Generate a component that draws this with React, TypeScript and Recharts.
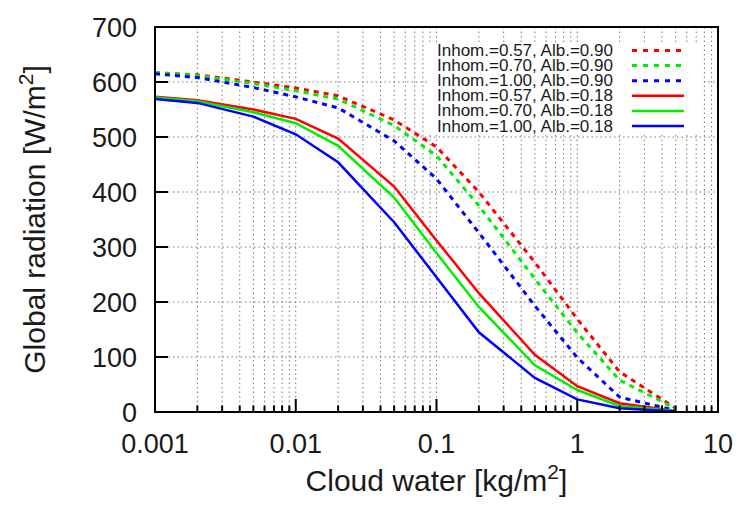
import React from 'react';
import { LineChart, Line, XAxis, YAxis, CartesianGrid, Legend } from 'recharts';

// ---------- data ----------
const cloudWater = [0.001, 0.002, 0.005, 0.01, 0.02, 0.05, 0.1, 0.2, 0.5, 1, 2, 5];

const inh057Alb090 = [617, 613, 600, 589, 575, 531, 482, 400, 272, 169, 73, 7];
const inh070Alb090 = [617, 612, 597, 584, 569, 521, 466, 375, 242, 144, 58, 6];
const inh100Alb090 = [615, 608, 590, 573, 553, 493, 424, 326, 193, 99, 27, 3];
const inh057Alb018 = [573, 567, 550, 533, 497, 410, 312, 216, 104, 47, 16, 2];
const inh070Alb018 = [572, 565, 545, 525, 484, 390, 289, 191, 85, 40, 11, 2];
const inh100Alb018 = [569, 562, 537, 505, 454, 345, 245, 145, 62, 23, 7, 1];

const seriesNames = [
  'Inhom.=0.57, Alb.=0.90',
  'Inhom.=0.70, Alb.=0.90',
  'Inhom.=1.00, Alb.=0.90',
  'Inhom.=0.57, Alb.=0.18',
  'Inhom.=0.70, Alb.=0.18',
  'Inhom.=1.00, Alb.=0.18',
];
const seriesValues = [inh057Alb090, inh070Alb090, inh100Alb090, inh057Alb018, inh070Alb018, inh100Alb018];
const seriesColors = ['#ff0000', '#00ee00', '#0000ff', '#ff0000', '#00ee00', '#0000ff'];
const seriesDashed = [true, true, true, false, false, false];

const xMajorTicks = [0.001, 0.01, 0.1, 1, 10];
const xTickLabels = ['0.001', '0.01', '0.1', '1', '10'];
const xMinorTicks = [
  0.002, 0.003, 0.004, 0.005, 0.006, 0.007, 0.008, 0.009,
  0.02, 0.03, 0.04, 0.05, 0.06, 0.07, 0.08, 0.09,
  0.2, 0.3, 0.4, 0.5, 0.6, 0.7, 0.8, 0.9,
  2, 3, 4, 5, 6, 7, 8, 9,
];
const xAllTicks = [...xMajorTicks, ...xMinorTicks].sort((a, b) => a - b);
const yTicks = [0, 100, 200, 300, 400, 500, 600, 700];
const yTickLabels = ['0', '100', '200', '300', '400', '500', '600', '700'];

const chartData = cloudWater.map((x, i) => {
  const row: Record<string, number> = { x };
  seriesValues.forEach((vals, s) => {
    row['s' + s] = vals[i];
  });
  return row;
});

// ---------- layout & styles ----------
const CHART_W = 741;
const CHART_H = 509;
const MARGIN = { top: 27, right: 23, bottom: 0, left: 0 };
const Y_AXIS_W = 155;
const X_AXIS_H = 97;
const FONT = '"Liberation Sans", Arial, Helvetica, sans-serif';
const TXT = '#1a1a1a';
const X_DOMAIN: [number, number] = [0.001, 10];
const Y_DOMAIN: [number, number] = [0, 700];
const BORDER = { stroke: '#000', strokeWidth: 2 };
const MAJOR_LEN = 13;
const MINOR_LEN = 6.5;
const TICK_FONT = 27;

// frame box around the plot area (same geometry as the chart margins)
const FRAME = {
  left: Y_AXIS_W - 1,
  top: MARGIN.top - 1,
  width: CHART_W - MARGIN.right - Y_AXIS_W + 2,
  height: CHART_H - X_AXIS_H - MARGIN.top + 2,
};

const isMajorX = (v: number) => xMajorTicks.some((m) => Math.abs(m - v) / m < 1e-6);
const isEndX = (v: number) => Math.abs(v - X_DOMAIN[0]) / v < 1e-6 || Math.abs(v - X_DOMAIN[1]) / v < 1e-6;
const xLabelOf = (v: number) => {
  const i = xMajorTicks.findIndex((m) => Math.abs(m - v) / m < 1e-6);
  return i >= 0 ? xTickLabels[i] : '';
};

function BottomTick(props: any) {
  const x = Number(props.x);
  const y = Number(props.y);
  const v = props.payload.value;
  const major = isMajorX(v);
  const len = major ? MAJOR_LEN : MINOR_LEN;
  return (
    <g>
      {!isEndX(v) && <line x1={x} x2={x} y1={y} y2={y - len} stroke="#000" strokeWidth={2} />}
      {major && (
        <text x={x} y={y + 22} dy="0.71em" textAnchor="middle" fontSize={TICK_FONT} fontFamily={FONT} fill={TXT}>
          {xLabelOf(v)}
        </text>
      )}
    </g>
  );
}

function LeftTick(props: any) {
  const x = Number(props.x);
  const y = Number(props.y);
  const i = yTicks.indexOf(props.payload.value);
  return (
    <g>
      <line x1={x} x2={x + MAJOR_LEN} y1={y} y2={y} stroke="#000" strokeWidth={2} />
      <text x={x - 18} y={y} dy="0.355em" textAnchor="end" fontSize={TICK_FONT} fontFamily={FONT} fill={TXT}>
        {i >= 0 ? yTickLabels[i] : ''}
      </text>
    </g>
  );
}

function XTitle(props: any) {
  const vb = props.viewBox || { x: 155, y: 412, width: 563, height: 97 };
  const cx = vb.x + vb.width / 2;
  const y = vb.y + 79;
  return (
    <text x={cx} y={y} textAnchor="middle" fontSize={30} fontFamily={FONT} fill={TXT}>
      Cloud water [kg/m
      <tspan dy={-12} fontSize={21}>2</tspan>
      <tspan dy={12}>]</tspan>
    </text>
  );
}

function YTitle(props: any) {
  const vb = props.viewBox || { x: 0, y: 27, width: 155, height: 385 };
  const x = vb.x + 45;
  const y = vb.y + vb.height / 2;
  return (
    <text
      x={x}
      y={y}
      transform={`rotate(-90 ${x} ${y})`}
      textAnchor="middle"
      fontSize={30}
      fontFamily={FONT}
      fill={TXT}
    >
      Global radiation [W/m
      <tspan dy={-12} fontSize={21}>2</tspan>
      <tspan dy={12}>]</tspan>
    </text>
  );
}

function LegendBox() {
  const w = 275;
  const h = 92;
  return (
    <svg width={w} height={h} style={{ display: 'block', background: '#fff' }}>
      {seriesNames.map((name, i) => {
        const cy = 8.5 + 15.1 * i;
        return (
          <g key={name}>
            <text
              x={185}
              y={cy + 5.5}
              textAnchor="end"
              fontSize={16}
              textLength={176}
              lengthAdjust="spacingAndGlyphs"
              fontFamily={FONT}
              fill={TXT}
            >
              {name}
            </text>
            <line
              x1={204}
              x2={256}
              y1={cy}
              y2={cy}
              stroke={seriesColors[i]}
              strokeWidth={seriesDashed[i] ? 3 : 2.5}
              strokeDasharray={seriesDashed[i] ? '5 6' : undefined}
            />
          </g>
        );
      })}
    </svg>
  );
}

export default function App() {
  return (
    <div style={{ position: 'absolute', left: 0, top: 0, width: CHART_W, height: CHART_H, background: '#fff' }}>
      <LineChart width={CHART_W} height={CHART_H} data={chartData} margin={MARGIN}>
        <CartesianGrid stroke="#7a7a7a" strokeWidth={1} strokeDasharray="1.5 3" />
        <XAxis
          dataKey="x"
          type="number"
          scale="log"
          domain={X_DOMAIN}
          allowDataOverflow
          ticks={xAllTicks}
          interval={0}
          tickFormatter={xLabelOf}
          height={X_AXIS_H}
          tickSize={0}
          tickMargin={0}
          tickLine={false}
          axisLine={BORDER}
          tick={<BottomTick />}
          label={<XTitle />}
        />
        <YAxis
          type="number"
          domain={Y_DOMAIN}
          ticks={yTicks}
          interval={0}
          width={Y_AXIS_W}
          tickSize={0}
          tickMargin={0}
          tickLine={false}
          axisLine={BORDER}
          tick={<LeftTick />}
          label={<YTitle />}
        />
        {seriesNames.map((name, i) => (
          <Line
            key={name}
            name={name}
            dataKey={'s' + i}
            type="linear"
            stroke={seriesColors[i]}
            strokeWidth={seriesDashed[i] ? 3 : 2.5}
            strokeDasharray={seriesDashed[i] ? '5 5' : undefined}
            dot={false}
            activeDot={false}
            isAnimationActive={false}
          />
        ))}
        <Legend
          layout="vertical"
          align="center"
          verticalAlign="middle"
          content={<LegendBox />}
          wrapperStyle={{ left: 428, top: 42, width: 275, height: 92, background: '#fff' }}
        />
      </LineChart>
      <div
        style={{
          position: 'absolute',
          left: FRAME.left,
          top: FRAME.top,
          width: FRAME.width,
          height: FRAME.height,
          boxSizing: 'border-box',
          border: '2px solid #000',
          pointerEvents: 'none',
        }}
      />
    </div>
  );
}
